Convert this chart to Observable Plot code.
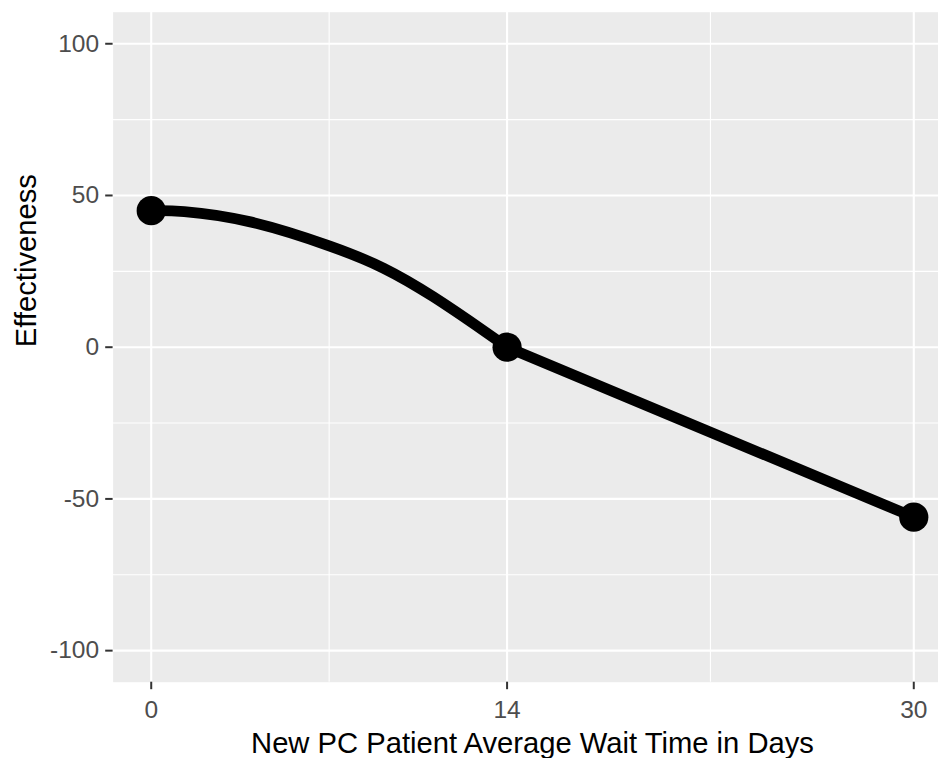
<!DOCTYPE html>
<html>
<head>
<meta charset="utf-8">
<script src="https://cdn.jsdelivr.net/npm/d3@7"></script>
<script src="https://cdn.jsdelivr.net/npm/@observablehq/plot@0.6"></script>
<style>
  html, body { margin: 0; padding: 0; background: #ffffff; overflow: hidden; }
  #chart { width: 938px; height: 758px; }
</style>
</head>
<body>
<div id="chart"></div>
<script>
// Key points (wait time in days, effectiveness)
const pointDays = [0, 14, 30];
const pointEffect = [45, 0, -56];

// Points: curved part (0–14 days)
const curveDaysA = [0, 1.3, 3.9, 7, 9.15, 11.1, 13.1, 14];
const curveEffectA = [45, 44.7, 41.3, 33.4, 26, 16.6, 5.3, 0];
// straight part (14–30 days)
const curveDaysB = [14, 30];
const curveEffectB = [0, -56];

// Axis ticks
const xTicks = [0, 14, 30];
const xMinor = [7, 22];
const yTicks = [-100, -50, 0, 50, 100];
const yMinor = [-75, -25, 25, 75];

const xTitle = "New PC Patient Average Wait Time in Days";
const yTitle = "Effectiveness";

const points = pointDays.map((d, i) => ({days: d, eff: pointEffect[i]}));
const curveA = curveDaysA.map((d, i) => ({days: d, eff: curveEffectA[i]}));
const curveB = curveDaysB.map((d, i) => ({days: d, eff: curveEffectB[i]}));

const chart = Plot.plot({
  width: 938,
  height: 758,
  marginLeft: 112.6,
  marginRight: -13.4,
  marginTop: 11.7,
  marginBottom: 76.3,
  style: {fontFamily: "'Liberation Sans', Arial, sans-serif", background: "#ffffff"},
  x: {domain: [-1.5, 31.5]},
  y: {domain: [-110.4, 110.4]},
  marks: [
    Plot.frame({fill: "#EBEBEB", stroke: null}),
    Plot.gridX(xMinor, {stroke: "#ffffff", strokeOpacity: 1, strokeWidth: 1.1}),
    Plot.gridY(yMinor, {stroke: "#ffffff", strokeOpacity: 1, strokeWidth: 1.1}),
    Plot.gridX(xTicks, {stroke: "#ffffff", strokeOpacity: 1, strokeWidth: 2.1}),
    Plot.gridY(yTicks, {stroke: "#ffffff", strokeOpacity: 1, strokeWidth: 2.1}),
    Plot.axisX(xTicks, {
      tickSize: 7.5, tickPadding: 11, fontSize: 24.5,
      stroke: "#333333", strokeWidth: 2, fill: "#4D4D4D", label: null
    }),
    Plot.axisY(yTicks, {
      tickSize: 7.4, tickPadding: 6.6, fontSize: 24.5,
      stroke: "#333333", strokeWidth: 2, fill: "#4D4D4D", label: null,
      tickFormat: d => d < 0 ? "-" + Math.abs(d) : String(d)
    }),
    Plot.line(curveA, {x: "days", y: "eff", curve: "natural", stroke: "#000000", strokeWidth: 10.8, strokeLinejoin: "round"}),
    Plot.line(curveB, {x: "days", y: "eff", curve: "linear", stroke: "#000000", strokeWidth: 10.8}),
    Plot.dot(points, {x: "days", y: "eff", r: 14.6, fill: "#000000", stroke: null}),
    Plot.text([xTitle], {
      frameAnchor: "bottom", lineAnchor: "top", dy: 50.3,
      fontSize: 29.2, fill: "#000000", text: d => d
    }),
    Plot.text([yTitle], {
      frameAnchor: "left", rotate: -90, lineAnchor: "middle", dx: -86,
      fontSize: 29.2, fill: "#000000", text: d => d
    })
  ]
});

document.getElementById("chart").appendChild(chart);
</script>
</body>
</html>
